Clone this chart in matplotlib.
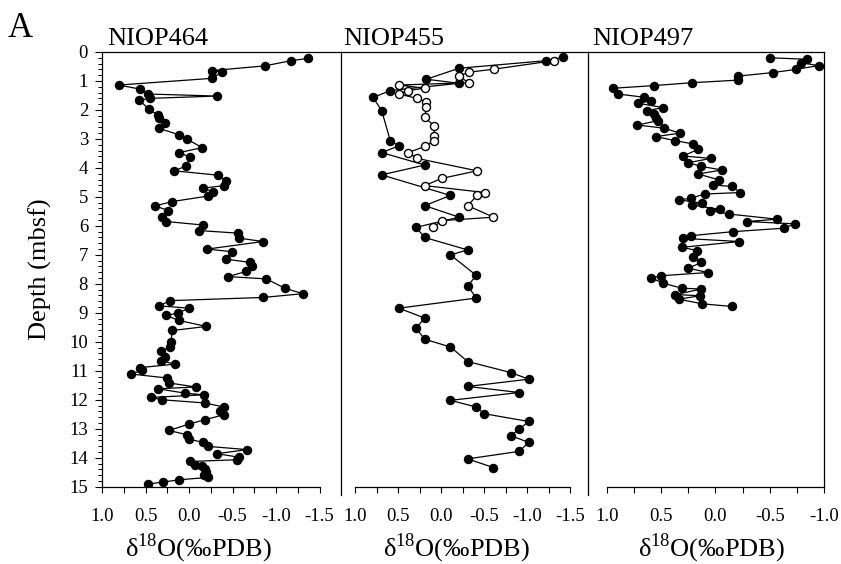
import numpy as np
import matplotlib.pyplot as plt
from matplotlib.ticker import FixedLocator, MultipleLocator

# Times-like serif for everything, hyphen minus as in the printed figure
plt.rcParams['font.family'] = 'serif'
plt.rcParams['font.serif'] = ['Liberation Serif', 'DejaVu Serif']
plt.rcParams['mathtext.fontset'] = 'custom'
plt.rcParams['mathtext.rm'] = 'Liberation Serif'
plt.rcParams['axes.unicode_minus'] = False

# NIOP464: d18O (permil PDB) and depth (mbsf)
d18o_464 = [-1.37, -1.17, -0.87, -0.27, -0.38, -0.26, 0.81, 0.56, 0.47, -0.32,
            0.45, 0.57, 0.46, 0.36, 0.34, 0.28, 0.35, 0.11, 0.02, -0.15,
            0.11, -0.01, 0.03, 0.17, -0.33, -0.43, -0.40, -0.16, -0.28, -0.22,
            0.19, 0.39, 0.24, 0.31, 0.26, -0.16, -0.11, -0.56, -0.57, -0.85,
            -0.21, -0.49, -0.43, -0.70, -0.72, -0.66, -0.45, -0.89, -1.10, -1.31,
            -0.85, 0.22, 0.34, 0.00, 0.13, 0.26, 0.12, -0.20, 0.19, 0.21,
            0.22, 0.32, 0.28, 0.32, 0.16, 0.56, 0.54, 0.67, 0.25, 0.23,
            -0.08, 0.36, 0.05, -0.17, 0.44, 0.31, -0.18, -0.40, -0.36, -0.40,
            -0.18, 0.00, 0.23, 0.02, 0.00, -0.16, -0.22, -0.67, -0.32, -0.57,
            -0.55, -0.01, -0.07, -0.15, -0.18, -0.20, -0.17, -0.22, 0.11, 0.30,
            0.47]
depth_464 = [0.22, 0.30, 0.48, 0.64, 0.70, 0.91, 1.14, 1.28, 1.45, 1.52,
             1.60, 1.66, 1.98, 2.17, 2.29, 2.44, 2.63, 2.86, 3.01, 3.30,
             3.47, 3.63, 3.93, 4.10, 4.25, 4.44, 4.61, 4.70, 4.82, 4.97,
             5.16, 5.31, 5.47, 5.70, 5.85, 5.97, 6.16, 6.25, 6.42, 6.54,
             6.80, 6.89, 7.15, 7.26, 7.38, 7.57, 7.75, 7.83, 8.15, 8.34,
             8.47, 8.58, 8.76, 8.84, 9.01, 9.09, 9.26, 9.47, 9.61, 10.02,
             10.18, 10.33, 10.51, 10.66, 10.77, 10.89, 10.99, 11.11, 11.25, 11.42,
             11.56, 11.62, 11.77, 11.83, 11.92, 12.00, 12.11, 12.25, 12.40, 12.52,
             12.69, 12.84, 13.06, 13.21, 13.36, 13.47, 13.61, 13.72, 13.86, 13.98,
             14.07, 14.13, 14.24, 14.30, 14.40, 14.50, 14.58, 14.68, 14.76, 14.84,
             14.91]

# NIOP455, filled symbols
d18o_455 = [-1.42, -1.22, -0.21, 0.17, -0.21, 0.59, 0.79, 0.69, 0.59, 0.49,
            0.69, 0.19, 0.69, -0.11, 0.19, -0.21, 0.29, 0.19, -0.31, -0.11,
            -0.41, -0.31, -0.41, 0.49, 0.19, 0.29, 0.19, -0.11, -0.31, -0.81,
            -1.02, -0.31, -0.91, -0.11, -0.41, -0.50, -1.02, -0.91, -0.81, -1.02,
            -0.91, -0.31, -0.61]
depth_455 = [0.18, 0.30, 0.56, 0.94, 1.08, 1.33, 1.57, 2.02, 3.06, 3.24,
             3.47, 3.90, 4.24, 4.95, 5.30, 5.70, 6.05, 6.40, 6.83, 7.00,
             7.71, 8.07, 8.49, 8.84, 9.18, 9.53, 9.91, 10.18, 10.68, 11.06,
             11.29, 11.54, 11.75, 12.02, 12.25, 12.48, 12.75, 13.01, 13.24, 13.47,
             13.78, 14.04, 14.34]

# NIOP455, open symbols
d18o_455b = [-1.31, -0.62, -0.32, -0.21, -0.32, 0.49, 0.19, 0.38, 0.49, 0.28,
             0.17, 0.17, 0.19, 0.08, 0.08, 0.08, 0.19, 0.38, 0.28, -0.42,
             -0.01, 0.19, -0.51, -0.42, -0.31, -0.61, -0.01, 0.09]
depth_455b = [0.30, 0.59, 0.70, 0.83, 1.06, 1.14, 1.25, 1.33, 1.45, 1.60,
              1.73, 1.91, 2.26, 2.54, 2.90, 3.06, 3.26, 3.47, 3.67, 4.10,
              4.36, 4.61, 4.85, 4.95, 5.30, 5.70, 5.82, 6.05]

# NIOP497
d18o_497 = [-0.50, -0.84, -0.79, -0.95, -0.74, -0.53, -0.21, -0.21, 0.22, 0.57,
            0.94, 0.90, 0.66, 0.59, 0.71, 0.48, 0.63, 0.57, 0.55, 0.53,
            0.72, 0.47, 0.33, 0.55, 0.37, 0.21, 0.16, 0.30, 0.04, 0.25,
            0.13, -0.06, 0.16, -0.03, 0.02, -0.15, -0.23, 0.10, 0.23, 0.34,
            0.12, 0.22, -0.04, 0.05, -0.12, -0.57, -0.29, -0.73, -0.63, -0.16,
            0.23, 0.30, -0.22, 0.31, 0.17, 0.21, 0.13, 0.25, 0.07, 0.50,
            0.59, 0.48, 0.31, 0.13, 0.37, 0.14, 0.34, 0.12, -0.15]
depth_497 = [0.20, 0.25, 0.37, 0.47, 0.60, 0.71, 0.83, 0.97, 1.06, 1.16,
             1.25, 1.45, 1.56, 1.68, 1.77, 1.92, 2.02, 2.14, 2.29, 2.37,
             2.52, 2.63, 2.80, 2.92, 3.06, 3.17, 3.36, 3.59, 3.67, 3.82,
             3.95, 4.07, 4.21, 4.41, 4.59, 4.64, 4.85, 4.90, 5.05, 5.10,
             5.22, 5.28, 5.43, 5.47, 5.59, 5.77, 5.85, 5.93, 6.08, 6.20,
             6.34, 6.43, 6.54, 6.74, 6.85, 7.08, 7.26, 7.46, 7.61, 7.72,
             7.80, 7.98, 8.15, 8.18, 8.37, 8.41, 8.53, 8.69, 8.78]

cores = ['NIOP464', 'NIOP455', 'NIOP497']
xlabel = 'δ$^{18}$O(‰PDB)'

W, H = 841, 564
fig = plt.figure(figsize=(W / 100, H / 100), dpi=100)

y_top, y_bot = 52, 486.7  # pixel rows of depth 0 and 15


def panel(x0, x1, xlim, xbound):
    ax = fig.add_axes([x0 / W, 1 - y_bot / H, (x1 - x0) / W, (y_bot - y_top) / H])
    ax.set_xlim(*xlim)
    ax.set_ylim(15, 0)
    ax.spines['bottom'].set_bounds(*xbound)
    ax.spines['right'].set_visible(False)
    for s in ax.spines.values():
        s.set_linewidth(0.9)
    ticks = np.arange(xbound[1], xbound[0] + 0.01, 0.25)
    ax.xaxis.set_major_locator(FixedLocator(ticks[::2]))
    ax.xaxis.set_minor_locator(FixedLocator(ticks[1::2]))
    ax.tick_params(axis='x', which='both', direction='out', length=4, width=0.8,
                   labelsize=13.5, pad=11)
    ax.xaxis.set_major_formatter(plt.FormatStrFormatter('%.1f'))
    ax.tick_params(axis='y', which='both', left=False, labelleft=False)
    return ax


ax1 = panel(102, 341, (1.0, -1.747), (1.0, -1.5))
ax2 = panel(341, 588, (1.163, -1.709), (1.0, -1.5))
ax3 = panel(588, 824, (1.175, -1.0), (1.0, -1.0))
ax3.spines['right'].set_visible(True)
for ax in (ax2, ax3):
    ax.spines['left'].set_bounds(15.28, 0)

# depth scale only on the first core
ax1.yaxis.set_major_locator(MultipleLocator(1))
ax1.yaxis.set_minor_locator(MultipleLocator(0.2))
ax1.tick_params(axis='y', which='major', left=True, labelleft=True, direction='out',
                length=5, width=0.8, labelsize=13.5, pad=5)
ax1.tick_params(axis='y', which='minor', left=True, direction='out', length=3, width=0.7)

style = dict(color='black', lw=0.9, marker='o', ms=5.8, mec='black')
ax1.plot(d18o_464, depth_464, mfc='black', **style)
ax2.plot(d18o_455, depth_455, mfc='black', **style)
ax2.plot(d18o_455b, depth_455b, mfc='white', **style)
ax3.plot(d18o_497, depth_497, mfc='black', **style)

# core names, panel letter and axis titles
for name, x in zip(cores, [107, 343, 592]):
    fig.text(x / W, 1 - 45 / H, name, fontsize=19, ha='left', va='baseline')
fig.text(8 / W, 1 - 37 / H, 'A', fontsize=25, ha='left', va='baseline')
for x in [199, 457, 712]:
    fig.text(x / W, 1 - 548 / H, xlabel, fontsize=19, ha='center', va='center')
fig.text(40 / W, 1 - 269 / H, 'Depth (mbsf)', fontsize=19, rotation=90,
         ha='center', va='center')

fig.savefig('out.png', dpi=100)
